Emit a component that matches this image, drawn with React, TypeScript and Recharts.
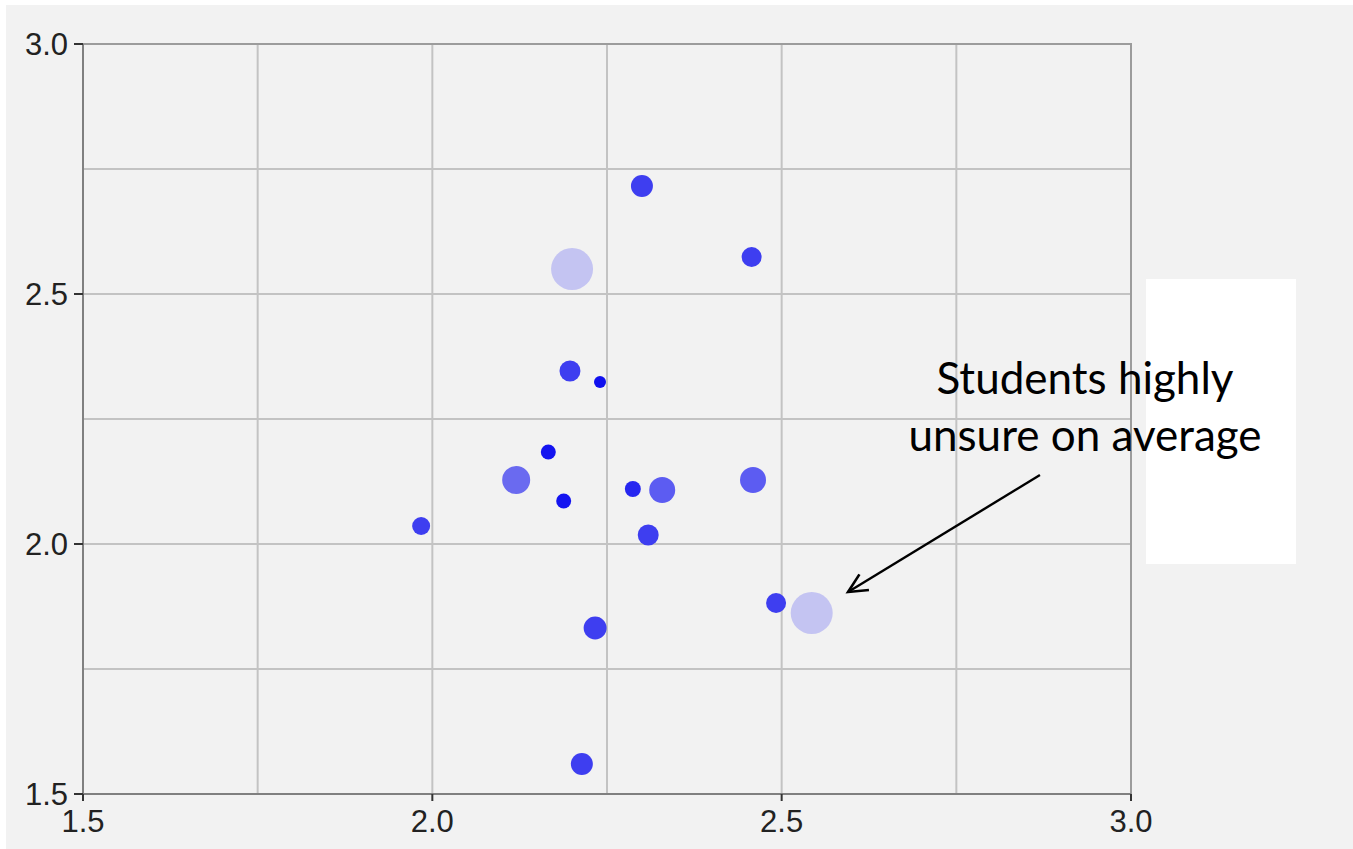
import React from 'react';
import {
  ScatterChart,
  Scatter,
  XAxis,
  YAxis,
  ZAxis,
  CartesianGrid,
  ReferenceArea,
  ReferenceLine,
} from 'recharts';

// ---- data ----
const xValues = [2.3, 2.2, 2.457, 2.197, 2.24, 2.166, 2.12, 2.188, 1.984, 2.287, 2.329, 2.459, 2.309, 2.492, 2.543, 2.233, 2.214];
const yValues = [2.716, 2.55, 2.574, 2.346, 2.324, 2.184, 2.128, 2.086, 2.036, 2.11, 2.108, 2.128, 2.018, 1.882, 1.862, 1.832, 1.56];
const zValues = [121, 441, 100, 110, 36, 56, 196, 56, 81, 64, 169, 169, 110, 100, 441, 132, 121];

const majorTicks = [1.5, 2.0, 2.5, 3.0];
const gridTicks = [1.5, 1.75, 2.0, 2.25, 2.5, 2.75, 3.0];

const arrowStart = { x: 2.8697, y: 2.138 };
const arrowEnd = { x: 2.595, y: 1.904 };
const annotationLines = ['Students highly', 'unsure on average'];

const points = xValues.map((x, i) => ({ x, y: yValues[i], z: zValues[i] }));

const colourFor = (z: number) => {
  if (z <= 40) return '#1010ee';
  if (z <= 60) return '#1414f0';
  if (z <= 70) return '#2626f0';
  if (z <= 140) return '#3e3ef0';
  if (z <= 180) return '#5c5cf2';
  if (z <= 250) return '#6a6af0';
  return '#c4c4f2';
};

const Dot = (props: any) => {
  const { cx, cy, size, payload } = props;
  if (cx == null || cy == null) return null;
  const r = Math.sqrt((size || 64) / Math.PI);
  return <circle cx={cx} cy={cy} r={r} fill={colourFor(payload.z)} />;
};

const Arrow = (props: any) => {
  const { x1, y1, x2, y2 } = props;
  if (x1 == null) return null;
  const ang = Math.atan2(y2 - y1, x2 - x1);
  const len = 21;
  const spread = 0.45;
  const ax1 = x2 - len * Math.cos(ang - spread);
  const ay1 = y2 - len * Math.sin(ang - spread);
  const ax2 = x2 - len * Math.cos(ang + spread);
  const ay2 = y2 - len * Math.sin(ang + spread);
  return (
    <g>
      <line x1={x1} y1={y1} x2={x2} y2={y2} stroke="#000" strokeWidth={2.4} />
      <polyline
        points={`${ax1},${ay1} ${x2},${y2} ${ax2},${ay2}`}
        fill="none"
        stroke="#000"
        strokeWidth={2.6}
      />
    </g>
  );
};

const tickStyle = { fontFamily: 'Liberation Sans, Arial, sans-serif', fontSize: 31, fill: '#222' };

export default function App() {
  return (
    <div style={{ position: 'absolute', left: 0, top: 0, width: 1353, height: 849, background: '#ffffff', overflow: 'hidden' }}>
      <div style={{ position: 'absolute', left: 6, top: 5, width: 1347, height: 844, background: '#f2f2f2' }} />
      <div style={{ position: 'absolute', left: 0, top: 0 }}>
        <ScatterChart width={1353} height={849} margin={{ top: 44, right: 222, bottom: 0, left: 0 }}>
          <XAxis xAxisId="g" dataKey="x" type="number" domain={[1.5, 3]} ticks={gridTicks} hide allowDataOverflow />
          <YAxis yAxisId="g" dataKey="y" type="number" domain={[1.5, 3]} ticks={gridTicks} hide allowDataOverflow />
          <CartesianGrid xAxisId="g" yAxisId="g" stroke="#c3c3c3" strokeWidth={2} />
          <XAxis
            dataKey="x"
            type="number"
            domain={[1.5, 3]}
            ticks={majorTicks}
            tickFormatter={(v: number) => v.toFixed(1)}
            height={55}
            tickSize={7}
            tickMargin={9}
            axisLine={{ stroke: '#808080', strokeWidth: 2 }}
            tickLine={{ stroke: '#333', strokeWidth: 2 }}
            tick={tickStyle}
            interval={0}
          />
          <YAxis
            dataKey="y"
            type="number"
            domain={[1.5, 3]}
            ticks={majorTicks}
            tickFormatter={(v: number) => v.toFixed(1)}
            width={83}
            tickSize={9}
            tickMargin={6}
            axisLine={{ stroke: '#808080', strokeWidth: 2 }}
            tickLine={{ stroke: '#333', strokeWidth: 2 }}
            tick={tickStyle}
            interval={0}
          />
          <ZAxis dataKey="z" type="number" domain={[0, 441]} range={[0, 441 * Math.PI]} />
          <ReferenceArea x1={1.5} x2={3} y1={1.5} y2={3} fill="none" stroke="#9c9c9c" strokeWidth={2} />
          <Scatter data={points} shape={Dot} isAnimationActive={false} />
          <ReferenceLine segment={[arrowStart, arrowEnd]} ifOverflow="visible" shape={Arrow} />
        </ScatterChart>
      </div>
      <svg width={1353} height={849} style={{ position: 'absolute', left: 0, top: 0, pointerEvents: 'none' }}>
        <rect x={1146} y={279} width={150} height={285} fill="#ffffff" />
        {annotationLines.map((t, i) => (
          <text
            key={t}
            x={1085}
            y={394 + i * 57}
            textAnchor="middle"
            fontFamily="Lato, 'Open Sans', sans-serif"
            fontSize={44}
            fill="#000"
          >
            {t}
          </text>
        ))}
      </svg>
    </div>
  );
}
